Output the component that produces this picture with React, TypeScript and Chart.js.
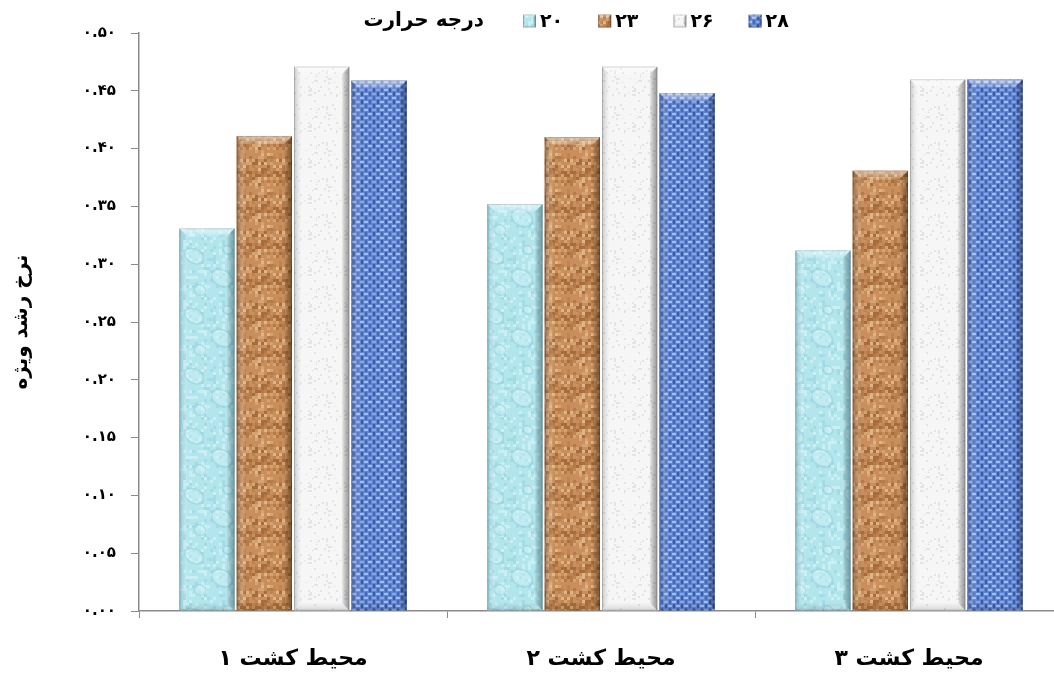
import React, { useEffect, useRef } from 'react';
import { Chart, registerables } from 'chart.js';

Chart.register(...registerables);

// Culture media on the category axis
const categories = ['محیط کشت ۱', 'محیط کشت ۲', 'محیط کشت ۳'];
// Temperatures (legend entries)
const temperatureLabels = ['۲۰', '۲۳', '۲۶', '۲۸'];
// Specific growth rate per medium, one array per temperature
const rate20 = [0.331, 0.352, 0.312];
const rate23 = [0.411, 0.41, 0.381];
const rate26 = [0.471, 0.471, 0.46];
const rate28 = [0.459, 0.448, 0.46];

const yMin = 0;
const yMax = 0.5;
const yStep = 0.05;

const legendTitle = 'درجه حرارت';
const yAxisTitle = 'نرخ رشد ویژه';

const FONT = '"DejaVu Sans", sans-serif';
const AXIS_COLOR = '#8a8a8a';

const persianDigits = '۰۱۲۳۴۵۶۷۸۹';
const toPersian = (s: string) => s.replace(/\d/g, (d) => persianDigits[Number(d)]);

// deterministic hash for texture speckles
const hash = (i: number, j: number, k: number) => {
  let h = (i * 374761393 + j * 668265263 + k * 2147483647) | 0;
  h = (h ^ (h >>> 13)) * 1274126177;
  h = h ^ (h >>> 16);
  return ((h >>> 0) % 1000) / 1000;
};

function tile(size: number, paint: (c: CanvasRenderingContext2D) => void) {
  const cv = document.createElement('canvas');
  cv.width = size;
  cv.height = size;
  const c = cv.getContext('2d') as CanvasRenderingContext2D;
  paint(c);
  return cv;
}

function makeTextures(ctx: CanvasRenderingContext2D) {
  const water = tile(60, (c) => {
    c.fillStyle = '#b3e5ed';
    c.fillRect(0, 0, 60, 60);
    for (let i = 0; i < 20; i++) {
      for (let j = 0; j < 20; j++) {
        const r = hash(i, j, 1);
        if (r > 0.78) {
          c.fillStyle = 'rgba(214,245,249,0.6)';
          c.fillRect(i * 3, j * 3, 3, 3);
        } else if (r < 0.14) {
          c.fillStyle = 'rgba(150,210,222,0.5)';
          c.fillRect(i * 3, j * 3, 3, 3);
        }
      }
    }
    const drops = [
      [14, 16, 10, 7],
      [42, 38, 11, 8],
      [20, 50, 6, 5],
      [48, 10, 5, 4],
    ];
    drops.forEach(([x, y, rx, ry]) => {
      c.beginPath();
      c.ellipse(x, y, rx, ry, 0.5, 0, Math.PI * 2);
      c.fillStyle = 'rgba(206,242,247,0.45)';
      c.fill();
      c.strokeStyle = 'rgba(140,200,212,0.45)';
      c.lineWidth = 1.5;
      c.stroke();
    });
  });

  const cork = tile(36, (c) => {
    c.fillStyle = '#c88f5c';
    c.fillRect(0, 0, 36, 36);
    const shades = ['#a66c3b', '#b47b48', '#d5a272', '#e0b487', '#bd8452'];
    for (let i = 0; i < 12; i++) {
      for (let j = 0; j < 12; j++) {
        const r = hash(i, j, 2);
        if (r < 0.65) {
          c.fillStyle = shades[Math.floor(r * 8.3) % shades.length];
          c.fillRect(i * 3, j * 3, 3, 3);
        }
      }
    }
  });

  const paper = tile(36, (c) => {
    c.fillStyle = '#f6f6f6';
    c.fillRect(0, 0, 36, 36);
    for (let i = 0; i < 18; i++) {
      for (let j = 0; j < 18; j++) {
        const r = hash(i, j, 3);
        if (r < 0.08) {
          c.fillStyle = '#e4e4e4';
          c.fillRect(i * 2, j * 2, 2, 2);
        } else if (r > 0.97) {
          c.fillStyle = '#d4d8de';
          c.fillRect(i * 2, j * 2, 1, 1);
        }
      }
    }
  });

  const weave = tile(32, (c) => {
    c.fillStyle = '#6085d0';
    c.fillRect(0, 0, 32, 32);
    for (let i = 0; i < 8; i++) {
      for (let j = 0; j < 8; j++) {
        const r = hash(i, j, 4);
        if ((i + j) % 2 === 0) {
          c.fillStyle = r > 0.5 ? '#a2bdf0' : '#86a5e4';
          c.fillRect(i * 4, j * 4 + 1, 4, 2);
        } else {
          c.fillStyle = r > 0.5 ? '#3a5aaa' : '#4867b9';
          c.fillRect(i * 4 + 1, j * 4, 2, 4);
        }
      }
    }
  });

  return [water, cork, paper, weave].map((t) => ctx.createPattern(t, 'repeat') as CanvasPattern);
}

// edge shading for the bevelled look of each bar
const edgeShades = [
  { left: 'rgba(70,140,155,0.45)', right: 'rgba(50,110,125,0.55)' },
  { left: 'rgba(90,50,20,0.45)', right: 'rgba(70,35,10,0.55)' },
  { left: 'rgba(110,110,110,0.35)', right: 'rgba(80,80,80,0.55)' },
  { left: 'rgba(30,50,110,0.35)', right: 'rgba(20,35,90,0.5)' },
];

function drawBevel(
  ctx: CanvasRenderingContext2D,
  left: number,
  top: number,
  w: number,
  h: number,
  shade: { left: string; right: string },
) {
  const b = Math.min(8, w / 4, h / 2);
  const right = left + w;
  const bottom = top + h;
  ctx.save();

  let g = ctx.createLinearGradient(left, 0, left + b, 0);
  g.addColorStop(0, shade.left);
  g.addColorStop(1, 'rgba(255,255,255,0.12)');
  ctx.fillStyle = g;
  ctx.beginPath();
  ctx.moveTo(left, top);
  ctx.lineTo(left + b, top + b);
  ctx.lineTo(left + b, bottom - b);
  ctx.lineTo(left, bottom);
  ctx.closePath();
  ctx.fill();

  g = ctx.createLinearGradient(right - b, 0, right, 0);
  g.addColorStop(0, 'rgba(0,0,0,0)');
  g.addColorStop(1, shade.right);
  ctx.fillStyle = g;
  ctx.beginPath();
  ctx.moveTo(right, top);
  ctx.lineTo(right - b, top + b);
  ctx.lineTo(right - b, bottom - b);
  ctx.lineTo(right, bottom);
  ctx.closePath();
  ctx.fill();

  g = ctx.createLinearGradient(0, top, 0, top + b);
  g.addColorStop(0, 'rgba(255,255,255,0.55)');
  g.addColorStop(1, 'rgba(255,255,255,0.15)');
  ctx.fillStyle = g;
  ctx.beginPath();
  ctx.moveTo(left, top);
  ctx.lineTo(right, top);
  ctx.lineTo(right - b, top + b);
  ctx.lineTo(left + b, top + b);
  ctx.closePath();
  ctx.fill();

  g = ctx.createLinearGradient(0, bottom - b, 0, bottom);
  g.addColorStop(0, 'rgba(0,0,0,0)');
  g.addColorStop(1, 'rgba(0,0,0,0.12)');
  ctx.fillStyle = g;
  ctx.beginPath();
  ctx.moveTo(left, bottom);
  ctx.lineTo(right, bottom);
  ctx.lineTo(right - b, bottom - b);
  ctx.lineTo(left + b, bottom - b);
  ctx.closePath();
  ctx.fill();

  ctx.strokeStyle = 'rgba(0,0,0,0.15)';
  ctx.lineWidth = 1;
  ctx.strokeRect(left + 0.5, top + 0.5, w - 1, h - 1);
  ctx.restore();
}

const bevelPlugin = {
  id: 'bevel',
  afterDatasetsDraw(chart: any) {
    const ctx = chart.ctx as CanvasRenderingContext2D;
    chart.data.datasets.forEach((_ds: any, di: number) => {
      const meta = chart.getDatasetMeta(di);
      meta.data.forEach((el: any) => {
        const { x, y, base, width } = el.getProps(['x', 'y', 'base', 'width'], true);
        drawBevel(ctx, x - width / 2, y, width, base - y, edgeShades[di]);
      });
    });
  },
};

// inline legend: title followed by the temperature swatches
const inlineLegendPlugin = {
  id: 'inlineLegend',
  afterDraw(chart: any) {
    const ctx = chart.ctx as CanvasRenderingContext2D;
    const cy = 21;
    ctx.save();
    ctx.textBaseline = 'middle';
    ctx.fillStyle = '#000';
    ctx.font = `bold 20px ${FONT}`;
    ctx.textAlign = 'right';
    ctx.fillText(legendTitle, 484, cy);

    ctx.textAlign = 'left';
    ctx.font = `bold 19px ${FONT}`;
    let x = 523;
    chart.data.datasets.forEach((ds: any, di: number) => {
      const box = 13;
      ctx.fillStyle = ds.backgroundColor;
      ctx.fillRect(x, cy - box / 2, box, box);
      drawBevel(ctx, x, cy - box / 2, box, box, edgeShades[di]);
      ctx.fillStyle = '#000';
      const label = ds.label as string;
      ctx.fillText(label, x + box + 4, cy + 1);
      x += box + 4 + ctx.measureText(label).width + 35;
    });
    ctx.restore();
  },
};

export default function App() {
  const canvasRef = useRef<HTMLCanvasElement | null>(null);

  useEffect(() => {
    const canvas = canvasRef.current;
    if (!canvas) return;
    const ctx = canvas.getContext('2d') as CanvasRenderingContext2D;
    const textures = makeTextures(ctx);
    const series = [rate20, rate23, rate26, rate28];

    const chart = new Chart(canvas, {
      type: 'bar',
      data: {
        labels: categories,
        datasets: series.map((values, i) => ({
          label: temperatureLabels[i],
          data: values,
          backgroundColor: textures[i],
          borderWidth: 0,
          categoryPercentage: 0.745,
          barPercentage: 0.965,
        })),
      },
      options: {
        responsive: false,
        animation: false,
        devicePixelRatio: 1,
        layout: { padding: { top: 33, right: 5, bottom: 0, left: 0 } },
        plugins: {
          legend: { display: false },
          tooltip: { enabled: false },
        },
        scales: {
          x: {
            grid: {
              display: true,
              drawOnChartArea: false,
              drawTicks: true,
              tickLength: 7,
              color: AXIS_COLOR,
              offset: true,
            },
            border: { display: true, color: AXIS_COLOR, width: 1.5 },
            ticks: {
              color: '#000',
              font: { family: FONT, size: 22, weight: 'bold' },
              padding: 28,
            },
            afterFit: (scale: any) => {
              scale.height = 66;
            },
          },
          y: {
            min: yMin,
            max: yMax,
            ticks: {
              stepSize: yStep,
              color: '#000',
              font: { family: FONT, size: 15, weight: 'bold' },
              padding: 15,
              callback: (v: any) => toPersian(Number(v).toFixed(2)),
            },
            grid: {
              display: true,
              drawOnChartArea: false,
              drawTicks: true,
              tickLength: 8,
              color: AXIS_COLOR,
            },
            border: { display: true, color: AXIS_COLOR, width: 1.5 },
            title: {
              display: true,
              text: yAxisTitle,
              color: '#000',
              font: { family: FONT, size: 20, weight: 'bold' },
              padding: { top: 10, bottom: 0 },
            },
            afterFit: (scale: any) => {
              scale.width = 139;
            },
          },
        },
      },
      plugins: [bevelPlugin, inlineLegendPlugin],
    } as any);

    return () => chart.destroy();
  }, []);

  return (
    <div
      style={{
        position: 'fixed',
        left: 0,
        top: 0,
        width: 1054,
        height: 677,
        overflow: 'hidden',
        background: '#fff',
      }}
    >
      <canvas ref={canvasRef} width={1068} height={677} style={{ display: 'block' }} />
    </div>
  );
}
